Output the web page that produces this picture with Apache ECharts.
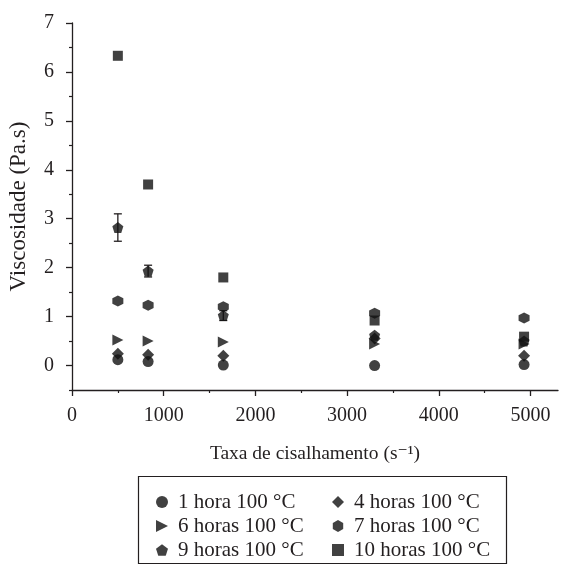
<!DOCTYPE html>
<html>
<head>
<meta charset="utf-8">
<script src="https://cdn.jsdelivr.net/npm/echarts@6/dist/echarts.min.js"></script>
<style>
  html, body { margin: 0; padding: 0; background: #fff; }
  #main { width: 572px; height: 566px; }
</style>
</head>
<body>
<div id="main"></div>
<script>
// taxa de cisalhamento (s-1)
var shear = [500, 830, 1650, 3300, 4930];
// viscosidade (Pa.s) por tempo de tratamento
var h1 = [0.12, 0.08, 0.01, 0.0, 0.02];
var h4 = [0.24, 0.22, 0.2, 0.55, 0.2];
var h6 = [0.52, 0.5, 0.48, 0.44, 0.44];
var h7 = [1.32, 1.23, 1.2, 1.07, 0.97];
var h9 = [2.82, 1.93, 1.02, 0.62, 0.5];
var h10 = [6.33, 3.7, 1.8, 0.92, 0.59];
// desvio (barras de erro, 9 horas)
var err9 = [0.28, 0.12, 0.1, 0, 0];

var names = ['1 hora 100 °C', '4 horas 100 °C', '6 horas 100 °C',
             '7 horas 100 °C', '9 horas 100 °C', '10 horas 100 °C'];
var yTicks = [0, 1, 2, 3, 4, 5, 6, 7];
var yMinor = [-0.5, 0.5, 1.5, 2.5, 3.5, 4.5, 5.5, 6.5];
var xTicks = [0, 1000, 2000, 3000, 4000, 5000];
var xMinor = [500, 1500, 2500, 3500, 4500];

var ink = '#231f20';
var mark = '#111';
var serif = '"Liberation Serif", "DejaVu Serif", serif';

var triRight = 'path://M0,0 L10,5 L0,10 Z';
var hexagon = 'path://M5,0 L9.33,2.5 L9.33,7.5 L5,10 L0.67,7.5 L0.67,2.5 Z';
var pentagon = 'path://M5,0 L10,3.7 L8.1,9.6 L1.9,9.6 L0,3.7 Z';

function pts (vals) {
  return shear.map(function (x, i) { return [x, vals[i]]; });
}

var myChart = echarts.init(document.getElementById('main'));

var baseSeries = function (name, vals, symbol, size) {
  return {
    name: name,
    type: 'scatter',
    xAxisIndex: 0,
    yAxisIndex: 0,
    data: pts(vals),
    symbol: symbol,
    symbolSize: size,
    itemStyle: { color: mark },
    z: 5
  };
};

var legendText = { fontFamily: serif, fontSize: 21, color: ink, lineHeight: 22, padding: [0, 0, 0, 5] };

var option = {
  animation: false,
  textStyle: { fontFamily: serif },
  grid: { left: 72, top: 23, right: 14, bottom: 176, containLabel: false, outerBoundsMode: 'none' },
  graphic: [{
    type: 'rect',
    shape: { x: 138.5, y: 476.5, width: 368, height: 87 },
    style: { fill: 'none', stroke: ink, lineWidth: 1.2 }
  }],
  legend: [{
    orient: 'vertical',
    left: 151,
    top: 486,
    height: 100,
    itemWidth: 12,
    itemHeight: 12,
    itemGap: 2,
    data: [names[0], names[2], names[4]],
    textStyle: legendText
  }, {
    orient: 'vertical',
    left: 327,
    top: 486,
    height: 100,
    itemWidth: 12,
    itemHeight: 12,
    itemGap: 2,
    data: [names[1], names[3], names[5]],
    textStyle: legendText
  }],
  xAxis: [{
    type: 'value',
    min: 0,
    max: 5300,
    name: 'Taxa de cisalhamento (s⁻¹)',
    nameLocation: 'middle',
    nameGap: 54,
    nameTextStyle: { fontFamily: serif, fontSize: 19.5, color: ink },
    axisLine: { onZero: false, lineStyle: { color: ink, width: 1.3 } },
    axisTick: { customValues: xTicks, length: 6, lineStyle: { color: ink, width: 1.3 } },
    axisLabel: {
      customValues: xTicks, margin: 16, fontFamily: serif, fontSize: 20, color: ink,
      formatter: function (v) { return String(v); }
    },
    splitLine: { show: false }
  }, {
    type: 'value',
    min: 0,
    max: 5300,
    position: 'bottom',
    axisLine: { show: false, onZero: false },
    axisTick: { customValues: xMinor, length: 3, lineStyle: { color: ink, width: 1.2 } },
    axisLabel: { show: false },
    splitLine: { show: false }
  }],
  yAxis: [{
    type: 'value',
    min: -0.5,
    max: 7,
    name: 'Viscosidade (Pa.s)',
    nameLocation: 'middle',
    nameGap: 42,
    nameTextStyle: { fontFamily: serif, fontSize: 23, color: ink },
    axisLine: { show: true, onZero: false, lineStyle: { color: ink, width: 1.3 } },
    axisTick: { show: true, customValues: yTicks, length: 6, lineStyle: { color: ink, width: 1.3 } },
    axisLabel: { customValues: yTicks, margin: 18, fontFamily: serif, fontSize: 20, color: ink },
    splitLine: { show: false }
  }, {
    type: 'value',
    min: -0.5,
    max: 7,
    position: 'left',
    axisLine: { show: false, onZero: false },
    axisTick: { show: true, customValues: yMinor, length: 3, lineStyle: { color: ink, width: 1.2 } },
    axisLabel: { show: false },
    splitLine: { show: false }
  }],
  series: [
    baseSeries(names[0], h1, 'circle', 11),
    baseSeries(names[1], h4, 'diamond', 12),
    baseSeries(names[2], h6, triRight, 11),
    baseSeries(names[3], h7, hexagon, 11),
    baseSeries(names[4], h9, pentagon, 11),
    baseSeries(names[5], h10, 'rect', 10),
    {
      type: 'custom',
      name: 'erro',
      xAxisIndex: 0,
      yAxisIndex: 0,
      z: 3,
      silent: true,
      data: shear.map(function (x, i) { return [x, h9[i], err9[i]]; }).filter(function (d) { return d[2] > 0; }),
      renderItem: function (params, api) {
        var x = api.value(0), y = api.value(1), e = api.value(2);
        var top = api.coord([x, y + e]);
        var bot = api.coord([x, y - e]);
        var st = { stroke: ink, lineWidth: 1.3 };
        return {
          type: 'group',
          children: [
            { type: 'line', shape: { x1: top[0], y1: top[1], x2: bot[0], y2: bot[1] }, style: st },
            { type: 'line', shape: { x1: top[0] - 4, y1: top[1], x2: top[0] + 4, y2: top[1] }, style: st },
            { type: 'line', shape: { x1: bot[0] - 4, y1: bot[1], x2: bot[0] + 4, y2: bot[1] }, style: st }
          ]
        };
      }
    }
  ]
};

myChart.setOption(option);
</script>
</body>
</html>
